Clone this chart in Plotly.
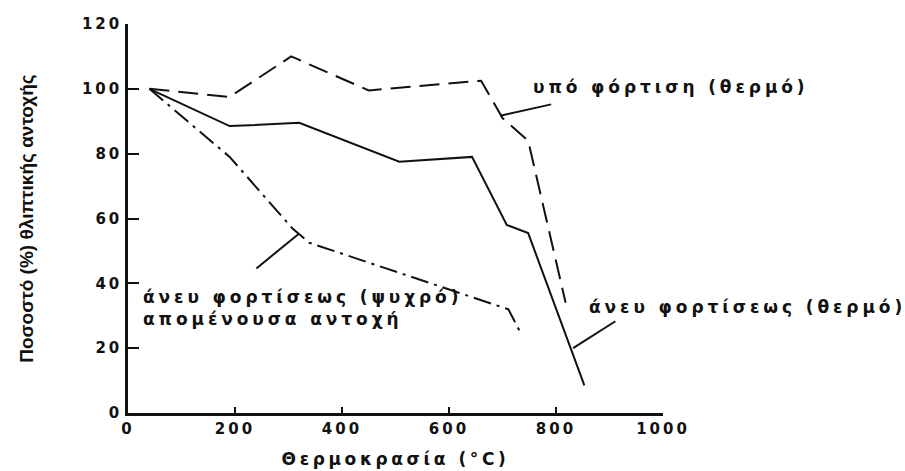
import plotly.graph_objects as go

# Data
temp_loaded_hot = [40, 190, 305, 450, 660, 700, 748, 818]
str_loaded_hot = [100, 97.5, 110, 99.5, 102.5, 91, 84, 34]

temp_unloaded_hot = [40, 190, 320, 507, 643, 708, 748, 853]
str_unloaded_hot = [100, 88.5, 89.5, 77.5, 79, 58, 55.5, 8.5]

temp_unloaded_cold = [40, 190, 307, 339, 711, 733]
str_unloaded_cold = [100, 79, 57, 52.5, 32, 25]

x_ticks = [0, 200, 400, 600, 800, 1000]
y_ticks = [0, 20, 40, 60, 80, 100, 120]

# Leader lines: (x0, y0, x1, y1)
leaders = [
    (696, 91.7, 791, 95.2),
    (832, 20.0, 911, 28.3),
    (240, 44.6, 320, 55.4),
]

labels = [
    ("υπό φόρτιση (θερμό)", 754, 100.6),
    ("άνευ φορτίσεως (θερμό)", 857, 32.6),
    ("άνευ φορτίσεως (ψυχρό)<br>απομένουσα αντοχή", 25, 32.5),
]

FONT = "DejaVu Sans"
ink = "#111111"

def spaced(t, px):
    return "<br>".join(f"<span style='letter-spacing:{px}px'>{s}</span>" for s in t.split("<br>"))

fig = go.Figure()
fig.add_trace(go.Scatter(x=temp_loaded_hot, y=str_loaded_hot, mode="lines",
                         line=dict(color=ink, width=2, dash="20px,9px"), showlegend=False))
fig.add_trace(go.Scatter(x=temp_unloaded_hot, y=str_unloaded_hot, mode="lines",
                         line=dict(color=ink, width=2), showlegend=False))
fig.add_trace(go.Scatter(x=temp_unloaded_cold, y=str_unloaded_cold, mode="lines",
                         line=dict(color=ink, width=2, dash="18px,6px,3px,6px"), showlegend=False))

for x0, y0, x1, y1 in leaders:
    fig.add_shape(type="line", x0=x0, y0=y0, x1=x1, y1=y1, xref="x", yref="y",
                  line=dict(color=ink, width=2))

for t, x, y in labels:
    fig.add_annotation(x=x, y=y, xref="x", yref="y", text=spaced(t, 3.9), showarrow=False,
                       xanchor="left", yanchor="middle", align="left",
                       font=dict(family=FONT, size=17, color=ink, weight="bold"))

fig.update_xaxes(range=[0, 1000], tickvals=x_ticks,
                 ticktext=[spaced(str(v), 3) for v in x_ticks],
                 ticks="inside", ticklen=6, tickwidth=2, tickcolor=ink,
                 showline=True, linewidth=2.5, linecolor=ink, showgrid=False, zeroline=False,
                 tickfont=dict(family=FONT, size=15, color=ink, weight="bold"),
                 title=dict(text=spaced("Θερμοκρασία (°C)", 3.6), standoff=17,
                            font=dict(family=FONT, size=17, color=ink, weight="bold")))
fig.update_yaxes(range=[0, 120], tickvals=y_ticks,
                 ticktext=[spaced(str(v), 3) for v in y_ticks],
                 ticks="inside", ticklen=11, tickwidth=2, tickcolor=ink,
                 showline=True, linewidth=2.5, linecolor=ink, showgrid=False, zeroline=False,
                 tickfont=dict(family=FONT, size=15, color=ink, weight="bold"),
                 title=dict(text="Ποσοστό (%) θλιπτικής αντοχής", standoff=44,
                            font=dict(family="Liberation Sans", size=19,
                                      color=ink, weight="bold")))

fig.update_layout(width=905, height=471, autosize=False,
                  margin=dict(l=128, r=242, t=24, b=58, autoexpand=False),
                  paper_bgcolor="white", plot_bgcolor="white")

fig.write_html("out.html", config={"displayModeBar": False})
